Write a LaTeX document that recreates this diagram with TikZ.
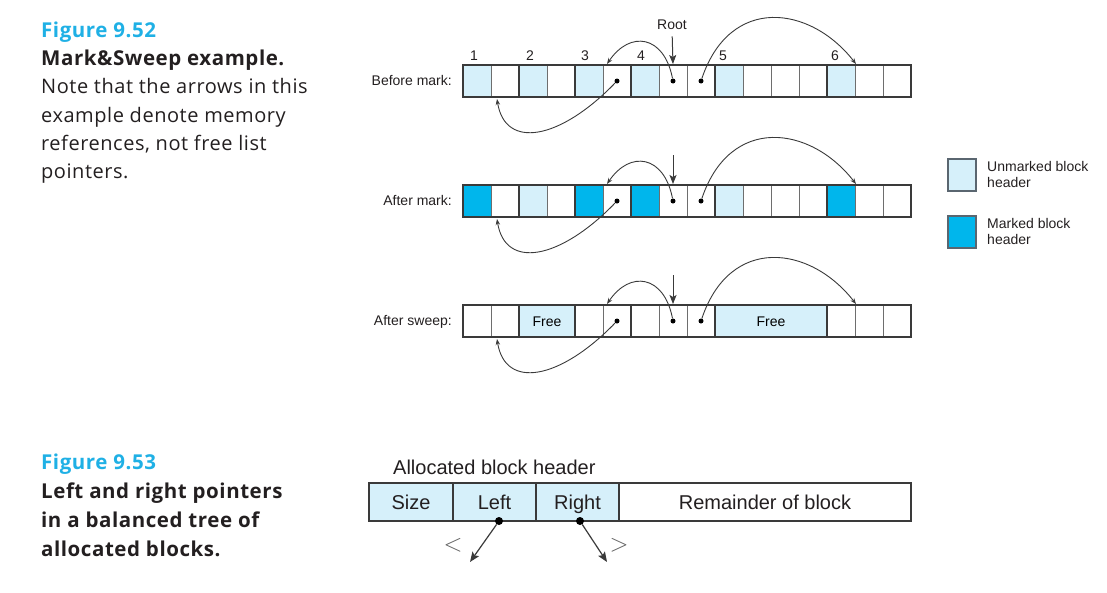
\documentclass[tikz,border=0pt]{standalone}
\usepackage{fontspec}
\setmainfont{Liberation Sans}
\newfontfamily\capfont[LetterSpace=2.7]{Open Sans}
\usetikzlibrary{arrows.meta,calc}
\definecolor{lightc}{HTML}{D6F0FA}
\definecolor{markc}{HTML}{00B6EC}
\definecolor{figc}{HTML}{1FB0E5}
\definecolor{capt}{HTML}{231F20}
\definecolor{edgec}{HTML}{3A3A3A}
\definecolor{thinc}{HTML}{6E6E6E}
\definecolor{legedge}{HTML}{5A6670}
\begin{document}
\begin{tikzpicture}[x=1pt,y=-1pt,
  cell/.style={draw=thinc, line width=0.9pt, minimum width=28pt, minimum height=32pt, inner sep=0pt, outer sep=0pt},
  blk/.style={draw=edgec, line width=2.2pt},
  freeblk/.style={draw=edgec, line width=2.2pt, fill=lightc, minimum height=32pt, inner sep=0pt, outer sep=0pt, font=\fontsize{14}{17}\selectfont, text height=10pt, text depth=0pt},
  lbl/.style={font=\fontsize{14}{17}\selectfont, text=capt, inner sep=0pt},
  dotn/.style={circle, fill=black, inner sep=0pt, minimum size=5pt},
  bigdot/.style={circle, fill=black, inner sep=0pt, minimum size=8pt},
  ref/.style={draw=edgec, line width=0.9pt, -{Stealth[length=6pt,width=4.5pt]}},
  rootarr/.style={draw=edgec, line width=1pt, -{Stealth[length=9pt,width=7pt,inset=2pt]}},
  legbox/.style={draw=legedge, line width=1.6pt, minimum width=28pt, minimum height=32pt, inner sep=0pt},
  hbox/.style={draw=edgec, line width=1.2pt, minimum height=38pt, inner sep=0pt, outer sep=0pt, font=\fontsize{20}{23}\selectfont, text=capt, text height=14.3pt, text depth=0pt},
  ptr/.style={draw=edgec, line width=1.2pt, -{Stealth[length=10pt,width=8pt,inset=2pt]}},
  capfig/.style={font=\capfont\bfseries\fontsize{20.5}{23}\selectfont, text=figc, inner sep=0pt, anchor=base west},
  capb/.style={font=\capfont\bfseries\fontsize{20.5}{23}\selectfont, text=capt, inner sep=0pt, anchor=base west},
  capr/.style={font=\capfont\fontsize{20}{23}\selectfont, text=capt, inner sep=0pt, anchor=base west}
]
\useasboundingbox (0,0) rectangle (1107,592);

% ---------------- captions ----------------
\node[capfig] (c1) at (41,37) {Figure 9.52};
\node[capb]   (c2) at (41,65) {Mark\&Sweep example.};
\node[capr]   (c3) at (41,93) {Note that the arrows in this};
\node[capr]   (c4) at (41,122) {example denote memory};
\node[capr]   (c5) at (41,150) {references, not free list};
\node[capr]   (c6) at (41,178) {pointers.};

\node[capfig] (d1) at (41,469) {Figure 9.53};
\node[capb]   (d2) at (41,498) {Left and right pointers};
\node[capb]   (d3) at (41,527) {in a balanced tree of};
\node[capb]   (d4) at (41,556) {allocated blocks.};

% ---------------- row a: before mark ----------------
\foreach \i/\f in {0/lightc,1/white,2/lightc,3/white,4/lightc,5/white,6/lightc,7/white,8/white,9/lightc,10/white,11/white,12/white,13/lightc,14/white,15/white}
  \node[cell, fill=\f] (a\i) at ({477+28*\i},81) {};
% ---------------- row b: after mark ----------------
\foreach \i/\f in {0/markc,1/white,2/lightc,3/white,4/markc,5/white,6/markc,7/white,8/white,9/lightc,10/white,11/white,12/white,13/markc,14/white,15/white}
  \node[cell, fill=\f] (b\i) at ({477+28*\i},201) {};
% ---------------- row c: after sweep ----------------
\foreach \i in {0,1,4,5,6,7,8,13,14,15}
  \node[cell, fill=white] (c\i) at ({477+28*\i},321) {};
\node[freeblk, minimum width=56pt] (cfa) at (547,321) {Free};
\node[freeblk, minimum width=112pt] (cfb) at (771,321) {Free};

% block outlines
\foreach \r in {a,b}
  \foreach \p/\q in {0/1,2/3,4/5,6/8,9/12,13/15}
    \draw[blk] (\r\p.north west) rectangle (\r\q.south east);
\foreach \p/\q in {0/1,4/5,6/8,13/15}
  \draw[blk] (c\p.north west) rectangle (c\q.south east);

% row labels
\node[lbl, anchor=base east] (la) at (452,85) {Before mark:};
\node[lbl, anchor=base east] (lb) at (452,205) {After mark:};
\node[lbl, anchor=base east] (lc) at (452,325) {After sweep:};

% block numbers
\foreach \n/\x in {1/474,2/530,3/585,4/641,5/723,6/835}
  \node[lbl, anchor=base] (n\n) at (\x,60) {\n};

% root
\node[lbl, anchor=base] (root) at (672,29) {Root};
\draw[rootarr, shorten <=7pt, shorten >=1pt] (root.south) -- (a7.north);
\coordinate (rb) at (673,155);
\coordinate (rc) at (673,275);
\draw[rootarr, shorten >=1pt] (rb) -- (b7.north);
\draw[rootarr, shorten >=1pt] (rc) -- (c7.north);

% pointers in each row
\foreach \r in {a,b,c} {
  \node[dotn] (\r d5) at (\r5.center) {};
  \node[dotn] (\r d7) at (\r7.center) {};
  \node[dotn] (\r d8) at (\r8.center) {};
  \coordinate (\r t1) at ($(\r1.south west)+(6,2)$);
  \coordinate (\r t5) at ($(\r5.north west)+(4,-1)$);
  \coordinate (\r t13) at ($(\r13.north east)+(1,-1)$);
  \draw[ref] (\r d5) .. controls +(-57,59) and +(8,51) .. (\r t1);
  \draw[ref] (\r d7) .. controls +(-9,-46) and +(23,-34) .. (\r t5);
  \draw[ref] (\r d8) .. controls +(29,-86) and +(-46,-59) .. (\r t13);
}

% legend
\node[legbox, fill=lightc] (lu) at (962,175) {};
\node[legbox, fill=markc] (lm) at (962,232) {};
\node[lbl, anchor=base west] (lu1) at (987,171) {Unmarked block};
\node[lbl, anchor=base west] (lu2) at (987,187) {header};
\node[lbl, anchor=base west] (lm1) at (987,228) {Marked block};
\node[lbl, anchor=base west] (lm2) at (987,244) {header};

% ---------------- figure 9.53 ----------------
\node[font=\fontsize{20}{23}\selectfont, text=capt, inner sep=0pt, anchor=base west] (ahead) at (393,474) {Allocated block header};
\node[hbox, fill=lightc, minimum width=84pt] (hsize) at (411,502) {Size};
\node[hbox, fill=lightc, minimum width=83pt, anchor=west] (hleft) at (hsize.east) {Left};
\node[hbox, fill=lightc, minimum width=83pt, anchor=west] (hright) at (hleft.east) {Right};
\node[hbox, fill=white, minimum width=292pt, anchor=west] (hrem) at (hright.east) {Remainder of block};
\node[bigdot] (pl) at ($(hleft.south)+(4.5,0)$) {};
\node[bigdot] (pr) at ($(hright.south)+(2.5,0)$) {};
\coordinate (tl) at (470,562);
\coordinate (tr) at (607,562);
\draw[ptr] (pl) -- (tl);
\draw[ptr] (pr) -- (tr);
\node[font=\fontsize{24}{26}\selectfont, text=edgec!80, inner sep=0pt] (lt) at (453,545) {$<$};
\node[font=\fontsize{24}{26}\selectfont, text=edgec!80, inner sep=0pt] (gt) at (619,545) {$>$};
\end{tikzpicture}
\end{document}
